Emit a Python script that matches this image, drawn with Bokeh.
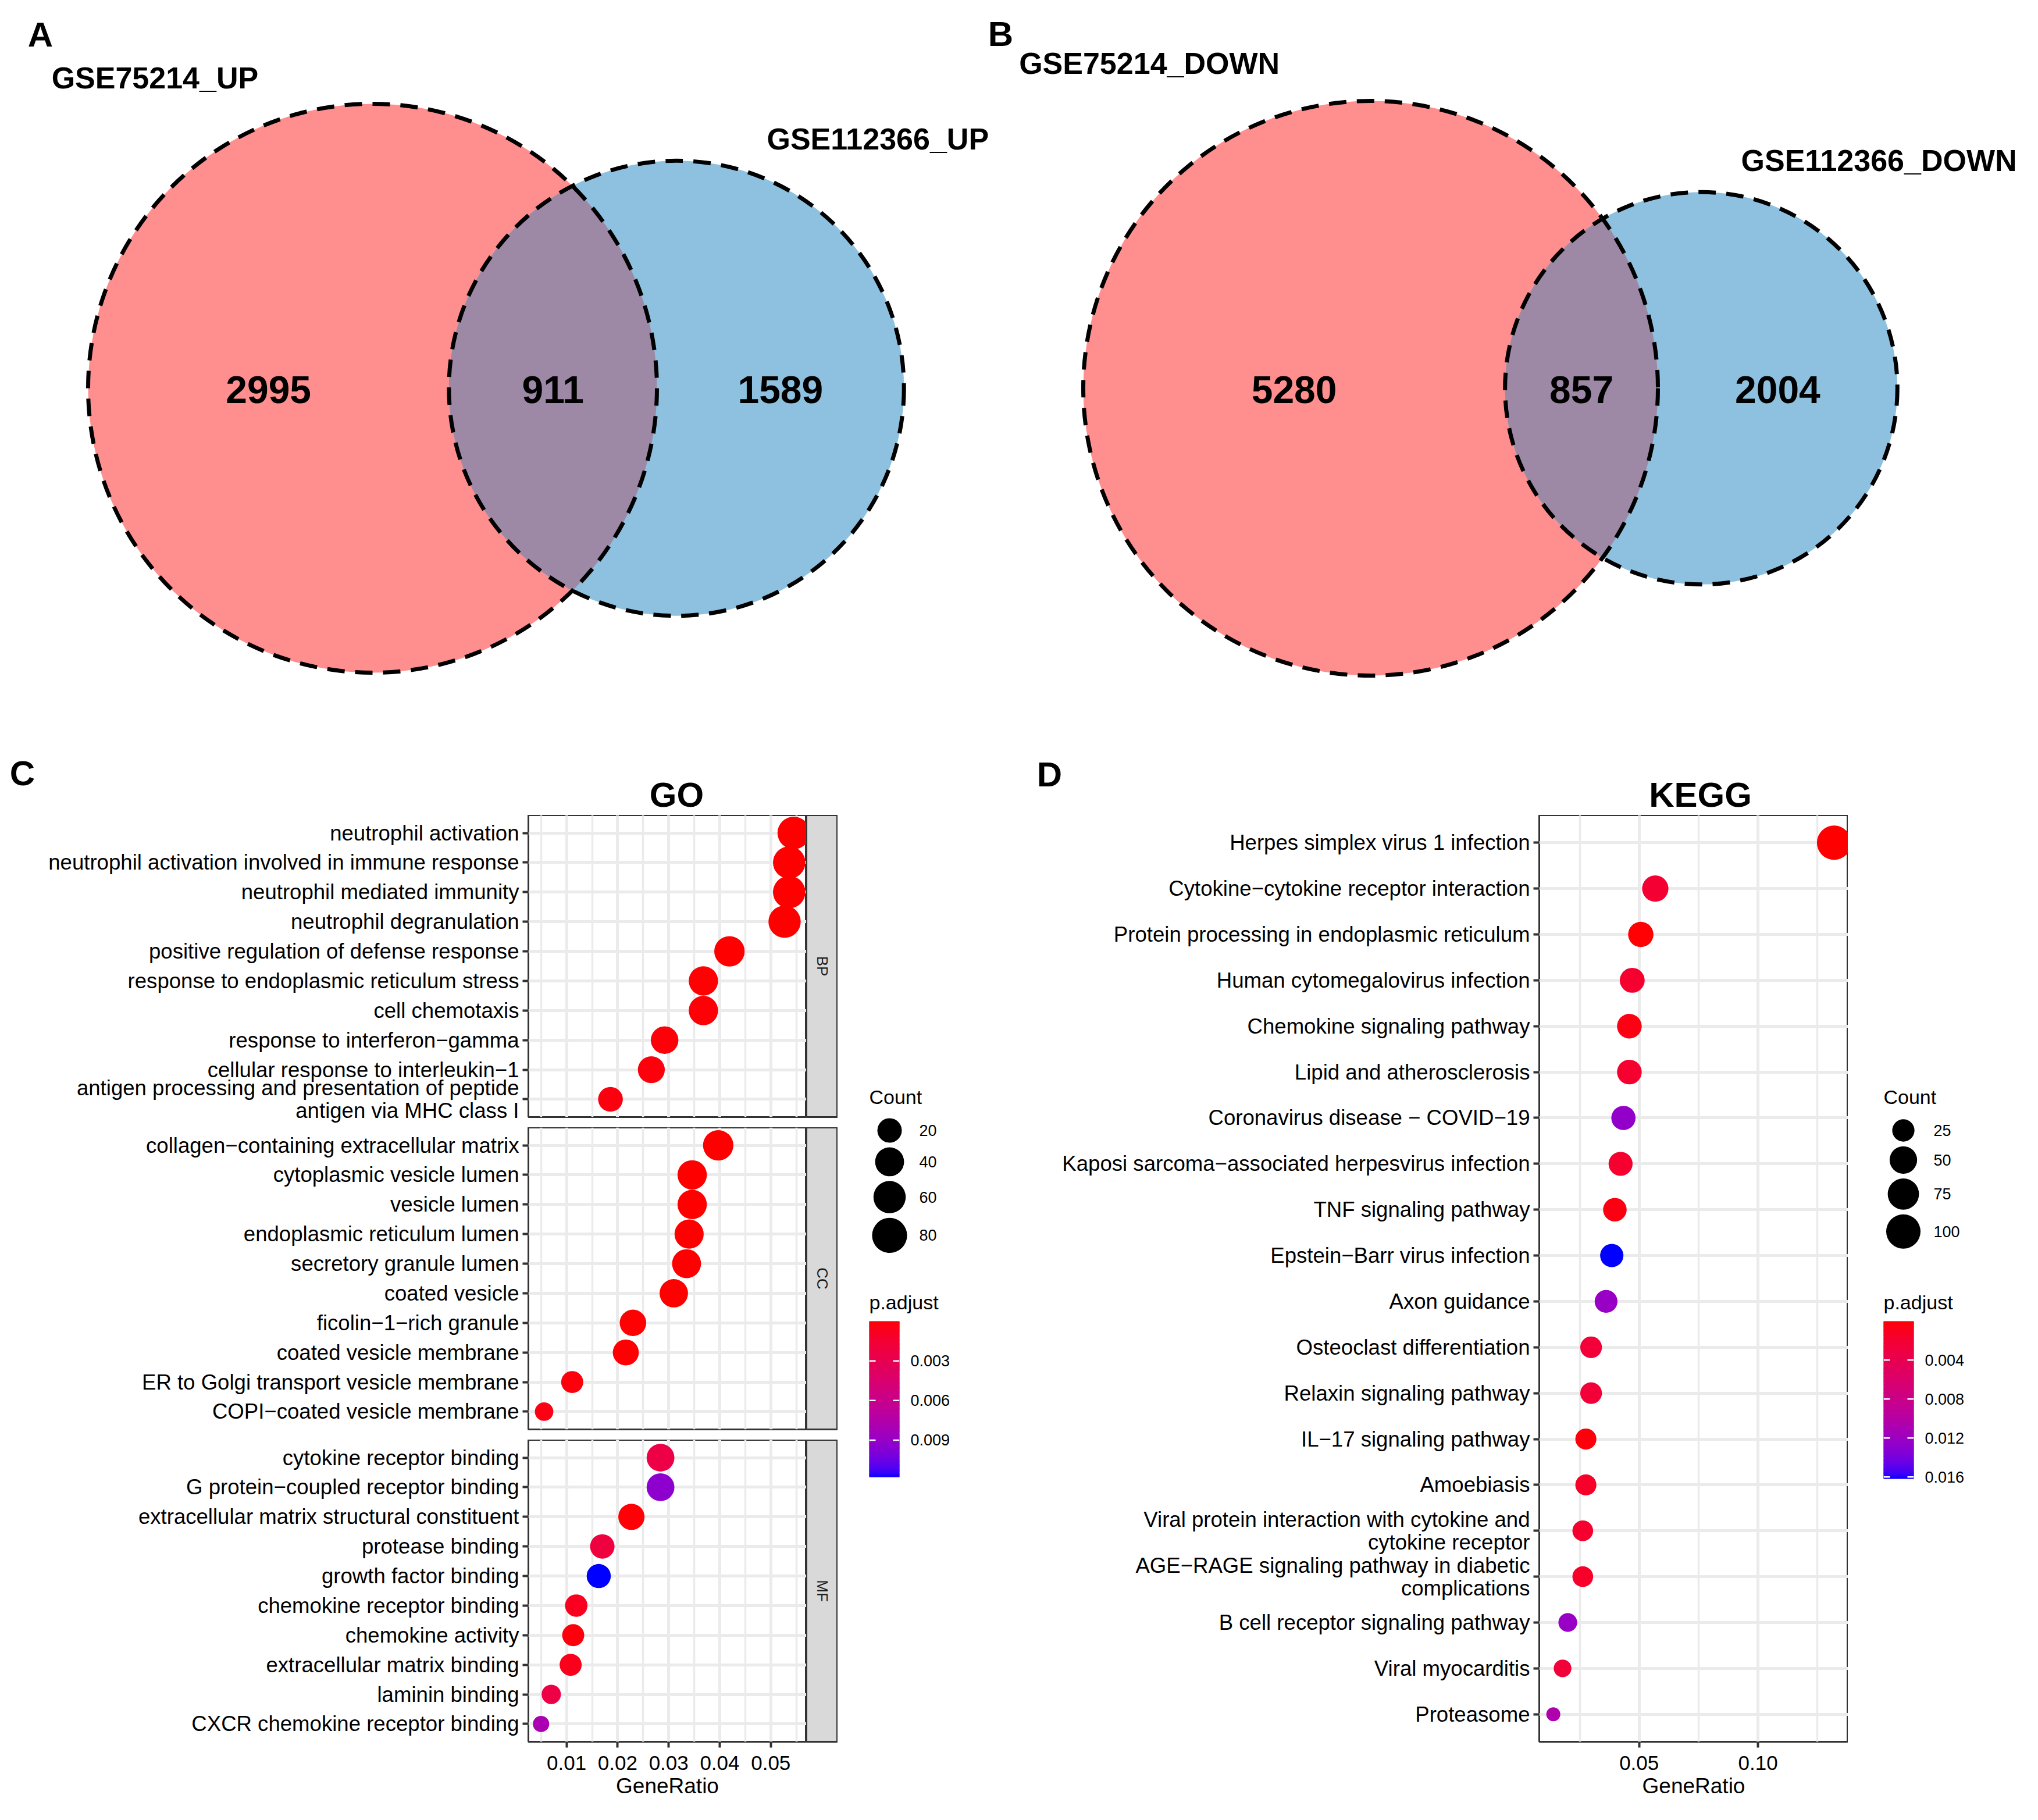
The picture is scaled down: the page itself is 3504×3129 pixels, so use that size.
import numpy as np
from bokeh.plotting import figure
from bokeh.layouts import column, row
from bokeh.models import Range1d, FixedTicker, NumeralTickFormatter, ColumnDataSource, Spacer
from bokeh.core.properties import value
from bokeh.embed import file_html
from bokeh.resources import INLINE

FONT = "Liberation Sans"

# ------------------------------------------------------------------ data
up_sets = ["GSE75214_UP", "GSE112366_UP"]
up_counts = [2995, 911, 1589]          # left only, both, right only
down_sets = ["GSE75214_DOWN", "GSE112366_DOWN"]
down_counts = [5280, 857, 2004]

bp_terms = ["neutrophil activation",
            "neutrophil activation involved in immune response",
            "neutrophil mediated immunity",
            "neutrophil degranulation",
            "positive regulation of defense response",
            "response to endoplasmic reticulum stress",
            "cell chemotaxis",
            "response to interferon\u2212gamma",
            "cellular response to interleukin\u22121",
            "antigen processing and presentation of peptide\nantigen via MHC class I"]
bp_ratio = [0.0545, 0.0536, 0.0536, 0.0527, 0.0419, 0.0368, 0.0368, 0.0292, 0.0266, 0.0186]
bp_count = [62, 61, 61, 60, 48, 42, 42, 33, 30, 21]
bp_padj = [1.1e-9, 1.3e-9, 1.3e-9, 1.0e-9, 2.0e-5, 6.0e-5, 9.0e-5, 1.5e-4, 2.0e-4, 3.0e-4]

cc_terms = ["collagen\u2212containing extracellular matrix",
            "cytoplasmic vesicle lumen",
            "vesicle lumen",
            "endoplasmic reticulum lumen",
            "secretory granule lumen",
            "coated vesicle",
            "ficolin\u22121\u2212rich granule",
            "coated vesicle membrane",
            "ER to Golgi transport vesicle membrane",
            "COPI\u2212coated vesicle membrane"]
cc_ratio = [0.0397, 0.0346, 0.0346, 0.0340, 0.0335, 0.0310, 0.0230, 0.0216, 0.0111, 0.0056]
cc_count = [48, 42, 42, 41, 40, 37, 28, 26, 13, 7]
cc_padj = [1e-6, 2e-7, 2e-7, 3e-7, 4e-7, 2e-5, 5e-5, 8e-5, 2e-4, 4e-4]

mf_terms = ["cytokine receptor binding",
            "G protein\u2212coupled receptor binding",
            "extracellular matrix structural constituent",
            "protease binding",
            "growth factor binding",
            "chemokine receptor binding",
            "chemokine activity",
            "extracellular matrix binding",
            "laminin binding",
            "CXCR chemokine receptor binding"]
mf_ratio = [0.0284, 0.0284, 0.0227, 0.0170, 0.0163, 0.0119, 0.0113, 0.0108, 0.0070, 0.0050]
mf_count = [34, 34, 27, 20, 19, 14, 13, 13, 8, 6]
mf_padj = [0.0024, 0.0094, 0.0001, 0.0021, 0.0118, 0.0008, 0.0002, 0.0006, 0.0024, 0.0080]

kegg_terms = ["Herpes simplex virus 1 infection",
              "Cytokine\u2212cytokine receptor interaction",
              "Protein processing in endoplasmic reticulum",
              "Human cytomegalovirus infection",
              "Chemokine signaling pathway",
              "Lipid and atherosclerosis",
              "Coronavirus disease \u2212 COVID\u221219",
              "Kaposi sarcoma\u2212associated herpesvirus infection",
              "TNF signaling pathway",
              "Epstein\u2212Barr virus infection",
              "Axon guidance",
              "Osteoclast differentiation",
              "Relaxin signaling pathway",
              "IL\u221217 signaling pathway",
              "Amoebiasis",
              "Viral protein interaction with cytokine and\ncytokine receptor",
              "AGE\u2212RAGE signaling pathway in diabetic\ncomplications",
              "B cell receptor signaling pathway",
              "Viral myocarditis",
              "Proteasome"]
kegg_ratio = [0.132, 0.0568, 0.0507, 0.0471, 0.0459, 0.0459, 0.0434, 0.0422, 0.0398, 0.0385,
              0.0361, 0.0298, 0.0298, 0.0276, 0.0276, 0.0263, 0.0263, 0.0200, 0.0178, 0.0139]
kegg_count = [100, 43, 38, 36, 35, 35, 33, 32, 30, 29, 27, 23, 23, 21, 21, 20, 20, 15, 13, 10]
kegg_padj = [2e-5, 0.0021, 0.0001, 0.0019, 0.0006, 0.0019, 0.0126, 0.0019, 0.0005, 0.0162,
             0.0123, 0.0024, 0.0024, 0.0003, 0.0016, 0.0019, 0.0016, 0.0123, 0.0026, 0.0107]

go_size_breaks = [20, 40, 60, 80]
go_padj_breaks = [0.003, 0.006, 0.009]
go_x_ticks = [0.01, 0.02, 0.03, 0.04, 0.05]
go_x_minor = [0.005, 0.015, 0.025, 0.035, 0.045, 0.055]
kegg_size_breaks = [25, 50, 75, 100]
kegg_padj_breaks = [0.004, 0.008, 0.012, 0.016]
kegg_x_ticks = [0.05, 0.10]
kegg_x_minor = [0.025, 0.075, 0.125]

# ------------------------------------------------------------------ helpers
GRID = "#EBEBEB"
BORDER = "#333333"
VENN_RED = "#FF8F8F"
VENN_BLUE = "#8EC1E0"
VENN_LENS = "#9D89A6"
LABEL_SIZE = "36.6px"


def _lin(c):
    c = np.asarray(c, float) / 255.0
    return np.where(c <= 0.04045, c / 12.92, ((c + 0.055) / 1.055) ** 2.4)


def rgb2lab(rgb):
    r, g, b = _lin(rgb)
    X = 0.4124564 * r + 0.3575761 * g + 0.1804375 * b
    Y = 0.2126729 * r + 0.7151522 * g + 0.0721750 * b
    Z = 0.0193339 * r + 0.1191920 * g + 0.9503041 * b
    d = 6 / 29

    def f(t):
        return np.cbrt(t) if t > d ** 3 else t / (3 * d * d) + 4 / 29
    fx, fy, fz = f(X / 0.95047), f(Y / 1.0), f(Z / 1.08883)
    return np.array([116 * fy - 16, 500 * (fx - fy), 200 * (fy - fz)])


def lab2hex(L, a, b):
    d = 6 / 29
    fy = (L + 16) / 116
    fx = fy + a / 500
    fz = fy - b / 200

    def finv(t):
        return t ** 3 if t > d else 3 * d * d * (t - 4 / 29)
    X, Y, Z = 0.95047 * finv(fx), finv(fy), 1.08883 * finv(fz)
    r = 3.2404542 * X - 1.5371385 * Y - 0.4985314 * Z
    g = -0.9692660 * X + 1.8760108 * Y + 0.0415560 * Z
    bb = 0.0556434 * X - 0.2040259 * Y + 1.0572252 * Z

    def gam(c):
        c = min(max(c, 0.0), 1.0)
        return 12.92 * c if c <= 0.0031308 else 1.055 * c ** (1 / 2.4) - 0.055
    return "#%02x%02x%02x" % tuple(int(round(gam(c) * 255)) for c in (r, g, bb))


LAB_LO = rgb2lab((255, 0, 0))
LAB_HI = rgb2lab((0, 0, 255))


def grad(t):
    t = min(max(t, 0.0), 1.0)
    return lab2hex(*(LAB_LO + (LAB_HI - LAB_LO) * t))


def size_px(c, smin, smax, cmin, cmax):
    return smin + (smax - smin) * np.sqrt(max(c - cmin, 0) / (cmax - cmin))


def lens_area(d, r1, r2):
    a1 = np.arccos(np.clip((d * d + r1 * r1 - r2 * r2) / (2 * d * r1), -1, 1))
    a2 = np.arccos(np.clip((d * d + r2 * r2 - r1 * r1) / (2 * d * r2), -1, 1))
    k = (-d + r1 + r2) * (d + r1 - r2) * (d - r1 + r2) * (d + r1 + r2)
    return r1 * r1 * a1 + r2 * r2 * a2 - 0.5 * np.sqrt(max(k, 0))


def txt(p, x, y, s, size, bold=False, align="center", color="black", angle=0.0):
    p.text(x=x, y=y, text=s, text_font=value(FONT), text_font_size=size,
           text_font_style="bold" if bold else "normal", text_align=align,
           text_baseline="middle", text_color=color, angle=angle)


def new_fig(**kw):
    f = figure(toolbar_location=None, output_backend="svg", title=None, **kw)
    if "frame_align" in f.properties():
        f.frame_align = False
    f.background_fill_color = "white"
    f.border_fill_color = "white"
    return f


def blank_fig(width, height, xr, yr):
    f = new_fig(width=width, height=height, x_range=xr, y_range=yr,
                x_axis_location=None, y_axis_location=None,
                min_border_left=0, min_border_right=0, min_border_top=0, min_border_bottom=0)
    f.grid.visible = False
    f.outline_line_color = None
    return f


# ------------------------------------------------------------------ Venn row
venn = blank_fig(3488, 1282, Range1d(8, 3496), Range1d(1290, 8))


def draw_venn(p, counts, names, cx1, cy, r1, off1, off2):
    n_l, n_b, n_r = counts
    nA, nB = n_l + n_b, n_b + n_r
    r2 = r1 * np.sqrt(nB / nA)
    target = n_b / nA * np.pi * r1 * r1
    lo, hi = abs(r1 - r2) + 1e-6, r1 + r2 - 1e-6
    for _ in range(100):
        mid = 0.5 * (lo + hi)
        if lens_area(mid, r1, r2) > target:
            lo = mid
        else:
            hi = mid
    d = 0.5 * (lo + hi)
    cx2 = cx1 + d
    xi = (d * d - r2 * r2 + r1 * r1) / (2 * d)
    h = np.sqrt(r1 * r1 - xi * xi)
    a1 = np.arctan2(h, xi)
    a2 = np.arctan2(h, d - xi)
    t1 = np.linspace(-a1, a1, 200)
    t2 = np.linspace(np.pi - a2, np.pi + a2, 200)
    lx = np.concatenate([cx1 + r1 * np.cos(t1), cx2 + r2 * np.cos(t2)])
    ly = np.concatenate([cy + r1 * np.sin(t1), cy + r2 * np.sin(t2)])
    p.circle(x=[cx1], y=[cy], radius=r1, fill_color=VENN_RED, line_color=None)
    p.circle(x=[cx2], y=[cy], radius=r2, fill_color=VENN_BLUE, line_color=None)
    p.patch(lx, ly, fill_color=VENN_LENS, line_color=None)
    p.circle(x=[cx1, cx2], y=[cy, cy], radius=[r1, r2], fill_color=None,
             line_color="black", line_width=7, line_dash="30 18")
    xs = [((cx1 - r1) + (cx2 - r2)) / 2, ((cx2 - r2) + (cx1 + r1)) / 2,
          ((cx1 + r1) + (cx2 + r2)) / 2]
    txt(p, xs, [cy + 2] * 3, [str(c) for c in counts], "66px", bold=True)
    txt(p, [cx1 + off1[0] * r1], [cy - off1[1] * r1], [names[0]], "52px", bold=True)
    txt(p, [cx2 + off2[0] * r2], [cy - off2[1] * r2], [names[1]], "52px", bold=True)


draw_venn(venn, up_counts, up_sets, 648, 675, 489, (-0.765, 1.09), (0.885, 1.095))
draw_venn(venn, down_counts, down_sets, 2364, 675, 494, (-0.77, 1.13), (0.906, 1.16))
txt(venn, [77, 1728], [67, 66], ["A", "B"], "60px", bold=True)

# ------------------------------------------------------------------ header row
header = blank_fig(3488, 119, Range1d(8, 3496), Range1d(1409, 1290))
txt(header, [46, 1812], [1337, 1339], ["C", "D"], "60px", bold=True)
txt(header, [1171, 2931], [1374, 1374], ["GO", "KEGG"], "60px", bold=True)

# ------------------------------------------------------------------ dot panels
go_counts_all = bp_count + cc_count + mf_count
go_padj_all = bp_padj + cc_padj + mf_padj
go_ratio_all = bp_ratio + cc_ratio + mf_ratio
GO_CMIN, GO_CMAX = min(go_counts_all), max(go_counts_all)
GO_PMIN, GO_PMAX = min(go_padj_all), max(go_padj_all)
KG_CMIN, KG_CMAX = min(kegg_count), max(kegg_count)
KG_PMIN, KG_PMAX = min(kegg_padj), max(kegg_padj)


def expand(vals, f=0.05):
    lo, hi = min(vals), max(vals)
    w = hi - lo
    return Range1d(lo - f * w, hi + f * w)


go_xr = expand(go_ratio_all)
kegg_xr = expand(kegg_ratio)


def dot_panel(terms, ratio, count, padj, xr, width, left, frame_h, bottom, show_x,
              xticks, xminor, smin, smax, cmin, cmax, pmin, pmax):
    n = len(terms)
    ys = list(range(n, 0, -1))
    p = new_fig(width=width, height=frame_h + bottom, x_range=xr,
                y_range=Range1d(0.4, n + 0.6),
                x_axis_location="below" if show_x else None,
                y_axis_location="left",
                min_border_left=left, min_border_right=0,
                min_border_top=0, min_border_bottom=bottom)
    p.outline_line_color = BORDER
    p.outline_line_width = 3
    p.xgrid.ticker = FixedTicker(ticks=xticks, minor_ticks=xminor)
    p.xgrid.grid_line_color = GRID
    p.xgrid.grid_line_width = 5
    p.xgrid.minor_grid_line_color = GRID
    p.xgrid.minor_grid_line_width = 3.5
    p.ygrid.grid_line_color = GRID
    p.ygrid.grid_line_width = 5
    src = ColumnDataSource(dict(
        x=ratio, y=ys,
        size=[size_px(c, smin, smax, cmin, cmax) for c in count],
        color=[grad((v - pmin) / (pmax - pmin)) for v in padj]))
    p.scatter("x", "y", size="size", fill_color="color", line_color=None, source=src)
    yax = p.yaxis[0]
    yax.ticker = FixedTicker(ticks=ys)
    yax.major_label_overrides = {y: t for y, t in zip(ys, terms)}
    yax.major_label_text_font = FONT
    yax.major_label_text_font_size = LABEL_SIZE
    yax.major_label_text_color = "black"
    yax.major_label_text_line_height = 0.95
    yax.major_label_standoff = 6
    yax.major_tick_out = 10
    yax.major_tick_in = 0
    yax.major_tick_line_width = 4
    yax.major_tick_line_color = BORDER
    yax.minor_tick_line_color = None
    yax.axis_line_color = None
    if show_x:
        xax = p.xaxis[0]
        xax.ticker = FixedTicker(ticks=xticks, minor_ticks=xminor)
        xax.formatter = NumeralTickFormatter(format="0.00")
        xax.major_label_text_font = FONT
        xax.major_label_text_font_size = "35px"
        xax.major_label_text_color = "black"
        xax.major_label_standoff = 14
        xax.major_tick_out = 10
        xax.major_tick_in = 0
        xax.major_tick_line_width = 4
        xax.major_tick_line_color = BORDER
        xax.minor_tick_line_color = None
        xax.axis_line_color = None
        xax.axis_label = "GeneRatio"
        xax.axis_label_text_font = FONT
        xax.axis_label_text_font_size = "37px"
        xax.axis_label_text_font_style = "normal"
        xax.axis_label_text_color = "black"
        xax.axis_label_standoff = 4
    return p


def strip(label, frame_h, bottom):
    s = new_fig(width=54, height=frame_h + bottom, x_range=Range1d(0, 1), y_range=Range1d(0, 1),
                x_axis_location=None, y_axis_location=None, min_border_left=0,
                min_border_right=0, min_border_top=0, min_border_bottom=bottom)
    s.grid.visible = False
    s.background_fill_color = "#D9D9D9"
    s.outline_line_color = BORDER
    s.outline_line_width = 3
    txt(s, [0.5], [0.5], [label], "26px", color="#1A1A1A", angle=-np.pi / 2)
    return s


FACET_H, GAP, AXIS_H = 519, 18, 117
GO_W, GO_LEFT = 1386, 908
go_args = dict(xr=go_xr, width=GO_W, left=GO_LEFT, frame_h=FACET_H, xticks=go_x_ticks,
               xminor=go_x_minor, smin=28, smax=56, cmin=GO_CMIN, cmax=GO_CMAX,
               pmin=GO_PMIN, pmax=GO_PMAX)
bp = dot_panel(bp_terms, bp_ratio, bp_count, bp_padj, bottom=GAP, show_x=False, **go_args)
cc = dot_panel(cc_terms, cc_ratio, cc_count, cc_padj, bottom=GAP, show_x=False, **go_args)
mf = dot_panel(mf_terms, mf_ratio, mf_count, mf_padj, bottom=AXIS_H, show_x=True, **go_args)
go_col = column(row(bp, strip("BP", FACET_H, GAP)),
                row(cc, strip("CC", FACET_H, GAP)),
                row(mf, strip("MF", FACET_H, AXIS_H)))

TOTAL_H = 3 * FACET_H + 2 * GAP + AXIS_H
kegg = dot_panel(kegg_terms, kegg_ratio, kegg_count, kegg_padj, xr=kegg_xr, width=1395, left=864,
                 frame_h=TOTAL_H - AXIS_H, bottom=AXIS_H, show_x=True, xticks=kegg_x_ticks,
                 xminor=kegg_x_minor, smin=24, smax=59, cmin=KG_CMIN, cmax=KG_CMAX,
                 pmin=KG_PMIN, pmax=KG_PMAX)


# ------------------------------------------------------------------ legends
def legend_col(width, x_title, x_circ, x_lab, breaks, smin, smax, cmin, cmax,
               pmin, pmax, pbreaks, bar_h):
    pad = 26
    top_h = 870
    f = blank_fig(width, top_h, Range1d(0, width), Range1d(top_h, 0))
    txt(f, [x_title], [484], ["Count"], "34px", align="left")
    sizes = [size_px(b, smin, smax, cmin, cmax) for b in breaks]
    ys = [542.0]
    for i in range(1, len(sizes)):
        ys.append(ys[-1] + (sizes[i - 1] + sizes[i]) / 2 + 8)
    f.scatter(x=[x_circ] * len(ys), y=ys, size=sizes, fill_color="black", line_color=None)
    txt(f, [x_lab] * len(ys), ys, [str(b) for b in breaks], "27px", align="left")
    txt(f, [x_title], [837], ["p.adjust"], "34px", align="left")

    bar_w = 52
    tick_len = 11
    cb = new_fig(width=width, height=bar_h + pad, x_range=Range1d(0, bar_w),
                 y_range=Range1d(pmax, pmin),
                 x_axis_location=None, y_axis_location="right", min_border_left=x_title,
                 min_border_right=width - x_title - bar_w, min_border_top=0,
                 min_border_bottom=pad)
    cb.grid.visible = False
    cb.outline_line_color = None
    edges = np.linspace(pmin, pmax, 121)
    mids = 0.5 * (edges[1:] + edges[:-1])
    cols = [grad((m - pmin) / (pmax - pmin)) for m in mids]
    cb.quad(left=0, right=bar_w, bottom=edges[1:], top=edges[:-1],
            fill_color=cols, line_color=cols, line_width=1.5)
    # white tick marks on both sides of the bar
    cb.segment(x0=[0] * len(pbreaks), x1=[tick_len] * len(pbreaks), y0=pbreaks, y1=pbreaks,
               line_color="white", line_width=2.5)
    cb.segment(x0=[bar_w - tick_len] * len(pbreaks), x1=[bar_w] * len(pbreaks), y0=pbreaks,
               y1=pbreaks, line_color="white", line_width=2.5)
    ra = cb.yaxis[0]
    ra.ticker = FixedTicker(ticks=pbreaks)
    ra.formatter = NumeralTickFormatter(format="0.000")
    ra.major_label_text_font = FONT
    ra.major_label_text_font_size = "27px"
    ra.major_label_text_color = "black"
    ra.major_label_standoff = 19
    ra.major_tick_line_color = None
    ra.major_tick_in = 0
    ra.major_tick_out = 0
    ra.minor_tick_line_color = None
    ra.axis_line_color = None
    return column(f, cb, Spacer(width=width, height=TOTAL_H - top_h - bar_h - pad))


go_leg = legend_col(342, 54, 89, 140, go_size_breaks, 28, 56, GO_CMIN, GO_CMAX,
                    GO_PMIN, GO_PMAX, go_padj_breaks, 268)
kegg_leg = legend_col(311, 61, 95, 147, kegg_size_breaks, 24, 59, KG_CMIN, KG_CMAX,
                      KG_PMIN, KG_PMAX, kegg_padj_breaks, 271)

layout = column(venn, header, row(go_col, go_leg, kegg, kegg_leg))

open("out.html", "w").write(file_html(layout, INLINE))
